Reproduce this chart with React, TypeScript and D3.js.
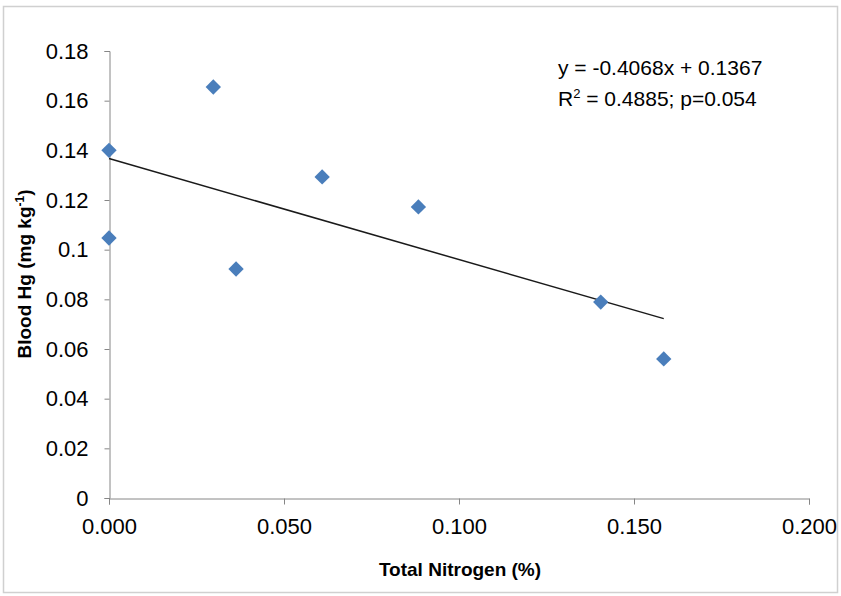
import React, { useEffect, useRef } from 'react';
import * as d3 from 'd3';

// Total nitrogen (%) vs blood Hg (mg/kg)
const nitrogen = [0.0, 0.0, 0.0298, 0.0363, 0.0609, 0.0884, 0.1405, 0.1585];
const bloodHg = [0.140, 0.1047, 0.1655, 0.0922, 0.1293, 0.1172, 0.0789, 0.056];
const xTicks = [0, 0.05, 0.1, 0.15, 0.2];
const yTicks = [0, 0.02, 0.04, 0.06, 0.08, 0.1, 0.12, 0.14, 0.16, 0.18];
const slope = -0.4068;
const intercept = 0.1367;

const W = 841;
const H = 596;
const FONT = '"Liberation Sans Narrow", "Liberation Sans", Arial, sans-serif';

export default function App() {
  const ref = useRef<SVGSVGElement>(null);

  useEffect(() => {
    const svg = d3.select(ref.current);
    svg.selectAll('*').remove();

    const x = d3.scaleLinear().domain([0, 0.2]).range([109, 809]);
    const y = d3.scaleLinear().domain([0, 0.18]).range([498, 51]);

    svg.append('rect')
      .attr('x', 3.5).attr('y', 6.5)
      .attr('width', W - 7).attr('height', H - 10)
      .attr('fill', '#fff').attr('stroke', '#d0d0d0').attr('stroke-width', 1.5);

    const yAxis = svg.append('g')
      .attr('transform', 'translate(109.5,0)')
      .call(d3.axisLeft(y).tickValues(yTicks).tickSize(5).tickPadding(16)
        .tickFormat((d) => String(+d)));
    const xAxis = svg.append('g')
      .attr('transform', 'translate(0,498.5)')
      .call(d3.axisBottom(x).tickValues(xTicks).tickSize(6).tickPadding(14)
        .tickFormat(d3.format('.3f')));

    [yAxis, xAxis].forEach((g) => {
      g.select('.domain').attr('stroke', '#868686').attr('stroke-width', 1);
      g.selectAll('.tick line').attr('stroke', '#868686');
      g.selectAll('.tick text')
        .attr('fill', '#000')
        .attr('font-family', FONT)
        .attr('font-size', 22);
    });

    // trendline over observed x range
    const xExt = d3.extent(nitrogen) as [number, number];
    const line = d3.line<number>()
      .x((d) => x(d))
      .y((d) => y(slope * d + intercept));
    svg.append('path')
      .attr('d', line(xExt))
      .attr('stroke', '#1a1a1a').attr('stroke-width', 1.5).attr('fill', 'none');

    const diamond = d3.symbol().type(d3.symbolDiamond2).size(150);
    svg.append('g')
      .selectAll('path')
      .data(nitrogen.map((n, i) => [n, bloodHg[i]]))
      .enter()
      .append('path')
      .attr('d', diamond)
      .attr('transform', (d) => `translate(${x(d[0])},${y(d[1])})`)
      .attr('fill', '#4a7ebb');

    const eq = svg.append('g').attr('font-family', FONT).attr('font-size', 21).attr('fill', '#000');
    eq.append('text').attr('x', 558).attr('y', 75).text('y = -0.4068x + 0.1367');
    const r2 = eq.append('text').attr('x', 558).attr('y', 106);
    r2.append('tspan').text('R');
    r2.append('tspan').attr('dy', -8).attr('font-size', 13).text('2');
    r2.append('tspan').attr('dy', 8).text(' = 0.4885; p=0.054');

    svg.append('text')
      .attr('x', 460).attr('y', 576)
      .attr('text-anchor', 'middle')
      .attr('font-family', FONT).attr('font-weight', 'bold').attr('font-size', 19)
      .text('Total Nitrogen (%)');

    const yt = svg.append('text')
      .attr('transform', 'translate(31,274) rotate(-90)')
      .attr('text-anchor', 'middle')
      .attr('font-family', FONT).attr('font-weight', 'bold').attr('font-size', 19);
    yt.append('tspan').text('Blood Hg (mg kg');
    yt.append('tspan').attr('dy', -7).attr('font-size', 12).text('-1');
    yt.append('tspan').attr('dy', 7).text(')');
  }, []);

  return (
    <svg
      ref={ref}
      width={W}
      height={H}
      style={{ position: 'absolute', left: 0, top: 0, background: '#fff' }}
    />
  );
}
